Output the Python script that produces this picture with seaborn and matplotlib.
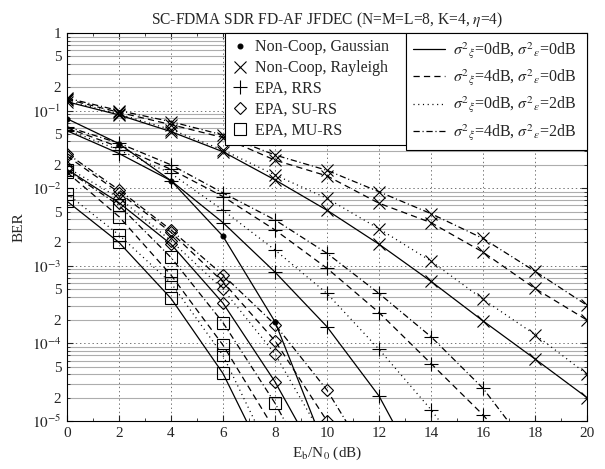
import matplotlib
matplotlib.use("Agg")
import matplotlib.pyplot as plt
import seaborn as sns
import numpy as np
from matplotlib.lines import Line2D
from matplotlib.ticker import FixedLocator, FuncFormatter

# ---------------- data ----------------
snr_gauss = [0, 2, 4, 6, 8, 10]
ber_gauss = [0.0786, 0.0375, 0.0125, 0.0024, 1.9e-4, 3.9e-6]

snr_ray = [0, 2, 4, 6, 8, 10, 12, 14, 16, 18, 20]
ray_s00 = [0.13, 0.088, 0.0536, 0.0295, 0.0128, 0.0052, 0.0019, 6.3e-4, 1.95e-4, 6.3e-5, 2e-5]
ray_s02 = [0.135, 0.09, 0.057, 0.031, 0.0148, 0.0074, 0.003, 1.15e-3, 3.7e-4, 1.3e-4, 4e-5]
ray_s40 = [0.14, 0.095, 0.066, 0.045, 0.023, 0.0144, 0.0064, 3.6e-3, 1.5e-3, 5.1e-4, 2e-4]
ray_s42 = [0.145, 0.1, 0.072, 0.0485, 0.0268, 0.017, 0.009, 4.7e-3, 2.25e-3, 8.5e-4, 3.1e-4]

snr_rrs_s00 = [0, 2, 4, 6, 8, 10, 12, 14]
rrs_s00 = [0.055, 0.028, 0.0125, 0.0036, 8.3e-4, 1.64e-4, 2.1e-5, 1.2e-6]
snr_rrs_s02 = [0, 2, 4, 6, 8, 10, 12, 14, 16]
rrs_s02 = [0.057, 0.031, 0.0155, 0.0052, 0.0016, 4.4e-4, 8.4e-5, 1.4e-5, 1.8e-6]
snr_rrs_s40 = [0, 2, 4, 6, 8, 10, 12, 14, 16, 18]
rrs_s40 = [0.06, 0.034, 0.0175, 0.0078, 0.0029, 9.3e-4, 2.5e-4, 5.5e-5, 1.2e-5, 2e-6]
snr_rrs_s42 = [0, 2, 4, 6, 8, 10, 12, 14, 16, 18]
rrs_s42 = [0.062, 0.038, 0.02, 0.0087, 0.0039, 1.45e-3, 4.4e-4, 1.22e-4, 2.64e-5, 3.5e-6]

snr_su_s00 = [0, 2, 4, 6, 8, 10]
su_s00 = [0.0175, 0.0065, 0.0019, 3.3e-4, 3.2e-5, 2e-6]
snr_su_s02 = [0, 2, 4, 6, 8, 10]
su_s02 = [0.0185, 0.0075, 0.0021, 5e-4, 7.3e-5, 5e-6]
snr_su_s40 = [0, 2, 4, 6, 8, 10, 12]
su_s40 = [0.026, 0.0088, 0.0027, 6.2e-4, 1.08e-4, 1.0e-5, 5e-7]
snr_su_s42 = [0, 2, 4, 6, 8, 10, 12]
su_s42 = [0.028, 0.0095, 0.0029, 7.6e-4, 1.75e-4, 2.5e-5, 2e-6]

snr_mu_s00 = [0, 2, 4, 6, 8]
mu_s00 = [0.0068, 0.002, 3.8e-4, 4.1e-5, 1.8e-6]
snr_mu_s02 = [0, 2, 4, 6, 8]
mu_s02 = [0.0085, 0.0025, 6e-4, 7e-5, 2.9e-6]
snr_mu_s40 = [0, 2, 4, 6, 8]
mu_s40 = [0.016, 0.0043, 7.6e-4, 9.5e-5, 7.6e-6]
snr_mu_s42 = [0, 2, 4, 6, 8, 10]
mu_s42 = [0.017, 0.006, 1.28e-3, 1.85e-4, 1.7e-5, 1e-6]

scheme_labels = ["Non-Coop, Gaussian", "Non-Coop, Rayleigh", "EPA, RRS", "EPA, SU-RS", "EPA, MU-RS"]
sigma_labels = [r"$\sigma^{2}{}_{\xi}$=0dB, $\sigma^{2}{}_{\epsilon}$=0dB",
                r"$\sigma^{2}{}_{\xi}$=4dB, $\sigma^{2}{}_{\epsilon}$=0dB",
                r"$\sigma^{2}{}_{\xi}$=0dB, $\sigma^{2}{}_{\epsilon}$=2dB",
                r"$\sigma^{2}{}_{\xi}$=4dB, $\sigma^{2}{}_{\epsilon}$=2dB"]
title = r"SC-FDMA SDR FD-AF JFDEC (N=M=L=8, K=4, $\eta$=4)"

# ---------------- style ----------------
sns.set_style("ticks")
plt.rcParams["font.family"] = ["Liberation Serif", "DejaVu Serif"]
plt.rcParams["mathtext.fontset"] = "stix"
plt.rcParams["lines.scale_dashes"] = False

LS = {"s00": "-", "s40": (0, (4.5, 3.0)), "s02": (0, (0.8, 2.6)), "s42": (0, (4.5, 2.0, 0.8, 2.0))}
MK = {"gauss": dict(marker="o", markersize=3.5, markerfacecolor="k"),
      "ray": dict(marker="x", markersize=9, markerfacecolor="none"),
      "rrs": dict(marker="+", markersize=10, markerfacecolor="none"),
      "su": dict(marker="D", markersize=6.5, markerfacecolor="none"),
      "mu": dict(marker="s", markersize=8, markerfacecolor="none")}

fig = plt.figure(figsize=(6.05, 4.69), dpi=100)
ax = fig.add_axes([67 / 605, 1 - 421 / 469, 520 / 605, 388 / 469])
ax.set_yscale("log")


def draw(x, y, mk, ls):
    sns.lineplot(x=x, y=y, ax=ax, color="k", linestyle=LS[ls], linewidth=0.9,
                 markeredgecolor="k", markeredgewidth=0.8, estimator=None,
                 sort=False, legend=False, **MK[mk])


series = [
    (snr_ray, ray_s00, "ray", "s00"), (snr_ray, ray_s02, "ray", "s02"),
    (snr_ray, ray_s40, "ray", "s40"), (snr_ray, ray_s42, "ray", "s42"),
    (snr_rrs_s00, rrs_s00, "rrs", "s00"), (snr_rrs_s02, rrs_s02, "rrs", "s02"),
    (snr_rrs_s40, rrs_s40, "rrs", "s40"), (snr_rrs_s42, rrs_s42, "rrs", "s42"),
    (snr_su_s00, su_s00, "su", "s00"), (snr_su_s02, su_s02, "su", "s02"),
    (snr_su_s40, su_s40, "su", "s40"), (snr_su_s42, su_s42, "su", "s42"),
    (snr_mu_s00, mu_s00, "mu", "s00"), (snr_mu_s02, mu_s02, "mu", "s02"),
    (snr_mu_s40, mu_s40, "mu", "s40"), (snr_mu_s42, mu_s42, "mu", "s42"),
    (snr_gauss, ber_gauss, "gauss", "s00"),
]
for x, y, mk, ls in series:
    draw(x, y, mk, ls)

ax.set_xlim(0, 20)
ax.set_ylim(1e-5, 1)

ax.xaxis.set_major_locator(FixedLocator(list(range(0, 21, 2))))
ax.xaxis.set_minor_locator(FixedLocator(list(range(1, 20, 2))))
decades = [10.0 ** k for k in range(-5, 1)]
minors = [m * 10.0 ** k for k in range(-5, 0) for m in range(2, 10)]
ax.yaxis.set_major_locator(FixedLocator(decades))
ax.yaxis.set_minor_locator(FixedLocator(minors))


def major_fmt(v, pos):
    k = int(round(np.log10(v)))
    return "1" if k == 0 else r"$10^{%d}$" % k


def minor_fmt(v, pos):
    k = np.floor(np.log10(v) + 1e-9)
    m = int(round(v / 10.0 ** k))
    return str(m) if m in (2, 5) else ""


ax.yaxis.set_major_formatter(FuncFormatter(major_fmt))
ax.yaxis.set_minor_formatter(FuncFormatter(minor_fmt))

ax.grid(which="major", axis="both", linestyle=(0, (1, 2)), color="0.45", linewidth=0.7)
ax.grid(which="minor", axis="y", linestyle="-", color="0.68", linewidth=0.8)
ax.set_axisbelow(True)

ax.tick_params(which="both", direction="in", top=True, right=True, labelsize=11, pad=4)
ax.tick_params(which="major", length=4, width=0.8)
ax.tick_params(which="minor", length=2.5, width=0.6)
for s in ax.spines.values():
    s.set_linewidth(0.8)
    s.set_color("k")

ax.set_title(title, fontsize=11.2, pad=6)
ax.set_xlabel(r"E$_{\rm b}$/N$_{\rm 0}$ (dB)", fontsize=11)
ax.set_ylabel("BER", fontsize=11)

# legends
h1 = [Line2D([], [], color="k", linestyle="none", markeredgecolor="k",
             markeredgewidth=0.8, **MK[mk]) for mk in ["gauss", "ray", "rrs", "su", "mu"]]
leg1 = ax.legend(h1, scheme_labels, loc="upper left", bbox_to_anchor=(0.304, 1.0, 0.348, 0.0),
                 mode="expand", borderaxespad=0, fancybox=False, framealpha=1, edgecolor="k",
                 fontsize=11.5, labelspacing=0.3, handlelength=1.1, handletextpad=0.35,
                 borderpad=0.4)
leg1.get_frame().set_linewidth(0.8)
ax.add_artist(leg1)

h2 = [Line2D([], [], color="k", linestyle=LS[k], linewidth=0.9) for k in ["s00", "s40", "s02", "s42"]]
leg2 = ax.legend(h2, sigma_labels, loc="upper left", bbox_to_anchor=(0.652, 1.0, 0.348, 0.0),
                 mode="expand", borderaxespad=0, fancybox=False, framealpha=1, edgecolor="k",
                 fontsize=11.5, labelspacing=0.42, handlelength=2.0, handletextpad=0.5,
                 borderpad=0.45)
leg2.get_frame().set_linewidth(0.8)

fig.savefig("out.png", dpi=100)
